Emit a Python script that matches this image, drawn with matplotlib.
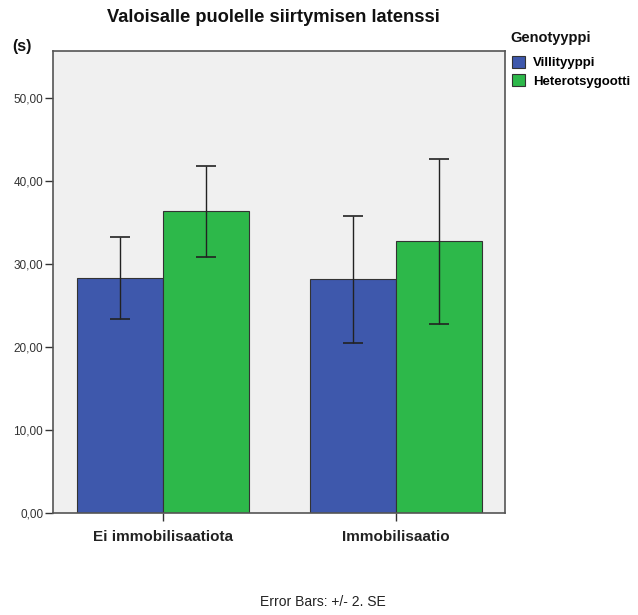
import matplotlib.pyplot as plt
import numpy as np

plt.rcParams['font.family'] = ['Liberation Sans', 'DejaVu Sans']

categories = ["Ei immobilisaatiota", "Immobilisaatio"]
groups = ["Villityyppi", "Heterotsygootti"]
means_villi = [28.3, 28.2]
means_hetero = [36.3, 32.7]
err_villi = [(23.4, 33.2), (20.5, 35.8)]
err_hetero = [(30.8, 41.8), (22.8, 42.6)]
yticks = [0, 10, 20, 30, 40, 50]

blue = "#3E58AC"
green = "#2DB84A"

fig = plt.figure(figsize=(6.38, 6.15), dpi=100)
ax = fig.add_axes([0.0831, 0.1659, 0.7085, 0.7512])
ax.set_facecolor("#F0F0F0")

x = np.arange(len(categories))
w = 0.371

def draw(offset, means, errs, color, label):
    lo = [m - e[0] for m, e in zip(means, errs)]
    hi = [e[1] - m for m, e in zip(means, errs)]
    ax.bar(x + offset, means, w, color=color, edgecolor="#333333", linewidth=0.8, label=label)
    ax.errorbar(x + offset, means, yerr=[lo, hi], fmt="none", ecolor="#222222",
                elinewidth=1.0, capsize=7.5, capthick=1.2)

draw(-w / 2, means_villi, err_villi, blue, groups[0])
draw(w / 2, means_hetero, err_hetero, green, groups[1])

ax.set_xlim(-0.472, 1.468)
ax.set_ylim(0, 55.6)
ax.set_xticks(x)
ax.set_xticklabels(categories, fontsize=11, fontweight="bold", color="#222222")
ax.set_yticks(yticks)
ax.set_yticklabels([f"{v:.2f}".replace(".", ",") for v in yticks], fontsize=8.5, color="#333333")
ax.tick_params(axis="both", direction="out", length=6, width=1, color="#333333")
ax.tick_params(axis="x", pad=6)
ax.tick_params(axis="y", pad=1)
for s in ax.spines.values():
    s.set_color("#555555")
    s.set_linewidth(1.2)

fig.text(0.428, 0.971, "Valoisalle puolelle siirtymisen latenssi", ha="center", va="center",
         fontsize=13.2, fontweight="bold", color="#111111")
fig.text(0.019, 0.924, "(s)", ha="left", va="center", fontsize=11.5, fontweight="bold", color="#111111")
fig.text(0.506, 0.021, "Error Bars: +/- 2. SE", ha="center", va="center", fontsize=10, color="#222222")

# legend title drawn separately so the gap to the entries matches
fig.text(510 / 638, 1 - 38 / 615, "Genotyyppi", ha="left", va="center",
         fontsize=10.5, fontweight="bold", color="#111111")
leg = fig.legend(loc="upper left", bbox_to_anchor=(512 / 638, 1 - 56 / 615),
                 frameon=False, borderpad=0, borderaxespad=0,
                 handlelength=1.0, handleheight=1.0,
                 handletextpad=0.6, labelspacing=0.38,
                 prop={"weight": "bold", "size": 9.5})

fig.savefig("out.png", dpi=100)
